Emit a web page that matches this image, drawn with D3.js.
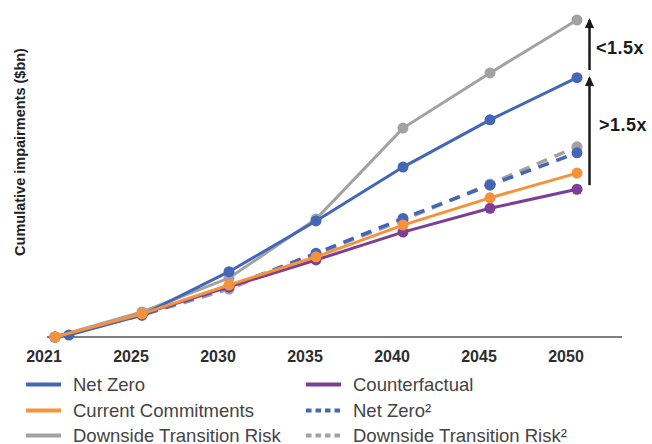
<!DOCTYPE html>
<html>
<head>
<meta charset="utf-8">
<script src="https://cdn.jsdelivr.net/npm/d3@7"></script>
<style>
  html, body { margin: 0; padding: 0; background: #fff; }
  svg { display: block; font-family: "Liberation Sans", Arial, Helvetica, sans-serif; }
</style>
</head>
<body>
<svg id="chart" width="652" height="444"></svg>
<script>
// ---- data ----
const years = ["2021", "2025", "2030", "2035", "2040", "2045", "2050"];
const netZero                 = [0.6, 6.9, 20.6, 36.6, 53.6, 68.5, 81.8];
const netZeroIndex            = [0.16, 1, 2, 3, 4, 5, 6];
const currentCommitments      = [0, 7.3, 16.4, 25.3, 35.3, 43.9, 51.7];
const downsideTransitionRisk  = [0, 7.9, 18.6, 37.2, 65.9, 83.3, 100];
const counterfactual          = [0, 7.2, 15.8, 24.3, 33.1, 40.6, 46.6];
const netZero2                = [0, 7.0, 15.8, 26.4, 37.4, 47.9, 58.1];
const downsideTransitionRisk2 = [0, 6.9, 15.1, 26.2, 36.9, 48.3, 60.0];
const yAxisTitle = "Cumulative impairments ($bn)";
const arrowFrom   = [84.2, 47.9];
const arrowTo     = [100.6, 82.3];
const arrowLabels = ["<1.5x", ">1.5x"];

const seriesNames  = ["Net Zero", "Current Commitments", "Downside Transition Risk", "Counterfactual", "Net Zero²", "Downside Transition Risk²"];
const seriesColors = ["#4466b8", "#f7923a", "#a2a2a2", "#7c3f96", "#4466b8", "#a2a2a2"];
const seriesDashed = [false, false, false, false, true, true];
const seriesValues = [netZero, currentCommitments, downsideTransitionRisk, counterfactual, netZero2, downsideTransitionRisk2];

// ---- scales ----
const svg = d3.select("#chart");
const x = d3.scaleLinear().domain([0, years.length - 1]).range([55, 577]);
const y = d3.scaleLinear().domain([0, 100]).range([337, 20]);

// axis line
svg.append("line")
  .attr("x1", 47).attr("x2", 622)
  .attr("y1", y(0)).attr("y2", y(0))
  .attr("stroke", "#555").attr("stroke-width", 1.5);

// x labels
svg.append("g").selectAll("text").data(years).join("text")
  .attr("x", (d, i) => x(i) - 11)
  .attr("y", 361.5)
  .attr("text-anchor", "middle")
  .attr("font-size", 16).attr("font-weight", "bold")
  .attr("fill", "#2d2d2d")
  .text(d => d);

// y title
svg.append("text")
  .attr("transform", "translate(24.5,152) rotate(-90)")
  .attr("text-anchor", "middle")
  .attr("font-size", 14.5).attr("font-weight", "bold")
  .attr("fill", "#222")
  .text(yAxisTitle);

// ---- series ----
const drawOrder = [5, 4, 3, 2, 0, 1];
const line = d3.line().x(d => x(d.i)).y(d => y(d.v));
const plot = svg.append("g");
drawOrder.forEach(k => {
  const pts = seriesValues[k].map((v, i) => ({ i: (k === 0 ? netZeroIndex[i] : i), v }));
  const g = plot.append("g");
  g.append("path")
    .attr("d", line(pts))
    .attr("fill", "none")
    .attr("stroke", seriesColors[k])
    .attr("stroke-width", seriesDashed[k] ? 3.5 : 3)
    .attr("stroke-dasharray", seriesDashed[k] ? "11,8" : null);
  g.selectAll("circle").data(pts).join("circle")
    .attr("cx", d => x(d.i)).attr("cy", d => y(d.v))
    .attr("r", 5.5)
    .attr("fill", seriesColors[k]);
});

// ---- arrows ----
const ax = x(years.length - 1) + 12.5;
arrowFrom.forEach((f, i) => {
  svg.append("line")
    .attr("x1", ax).attr("x2", ax)
    .attr("y1", y(f)).attr("y2", y(arrowTo[i]) + 2)
    .attr("stroke", "#1a1a1a").attr("stroke-width", 2.5);
  svg.append("path")
    .attr("d", `M${ax - 4.5},${y(arrowTo[i]) + 10} L${ax},${y(arrowTo[i])} L${ax + 4.5},${y(arrowTo[i]) + 10} Z`)
    .attr("fill", "#1a1a1a");
});
svg.append("text").attr("x", 596).attr("y", 53.5)
  .attr("font-size", 18).attr("font-weight", "bold").attr("fill", "#1a1a1a")
  .attr("letter-spacing", 0.5)
  .text(arrowLabels[0]);
svg.append("text").attr("x", 599).attr("y", 130.5)
  .attr("font-size", 18).attr("font-weight", "bold").attr("fill", "#1a1a1a")
  .attr("letter-spacing", 0.5)
  .text(arrowLabels[1]);

// ---- legend ----
const legendCol = [0, 0, 0, 1, 1, 1];
const legendRow = [0, 1, 2, 0, 1, 2];
const colX = [26, 306];
const rowY = [384.5, 410.5, 435.5];
const legend = svg.append("g");
seriesNames.forEach((name, k) => {
  const lx = colX[legendCol[k]], ly = rowY[legendRow[k]];
  legend.append("line")
    .attr("x1", lx).attr("x2", lx + 35)
    .attr("y1", ly).attr("y2", ly)
    .attr("stroke", seriesColors[k])
    .attr("stroke-width", 4)
    .attr("stroke-dasharray", seriesDashed[k] ? "5.5,4" : null);
  legend.append("text")
    .attr("x", lx + 47).attr("y", ly + 6)
    .attr("font-size", 18.5)
    .attr("fill", "#444")
    .text(name);
});
</script>
</body>
</html>
